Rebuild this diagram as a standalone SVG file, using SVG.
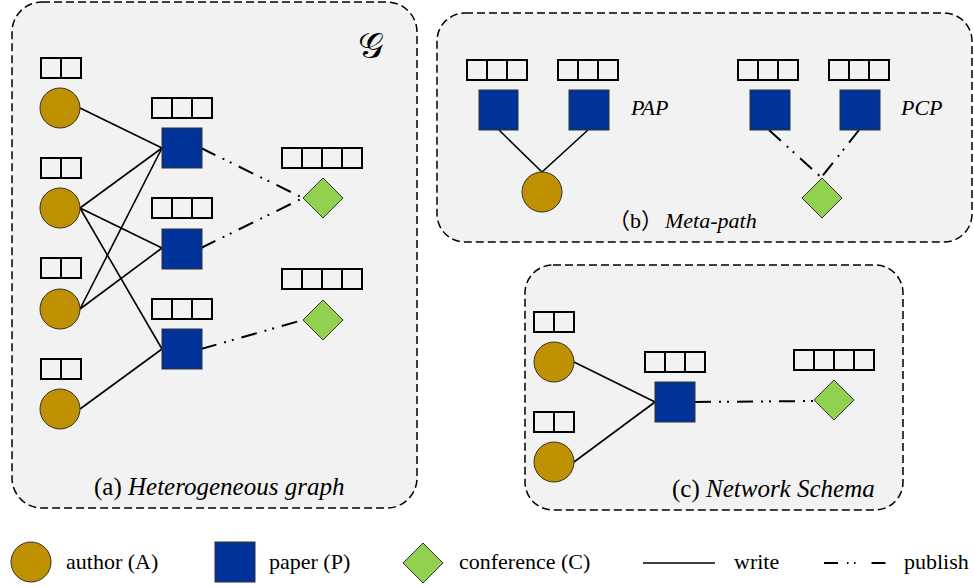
<svg xmlns="http://www.w3.org/2000/svg" xmlns:xlink="http://www.w3.org/1999/xlink" width="974" height="587" viewBox="0 0 974 587">
<style>
.panel{fill:#f2f2f2;stroke:#000;stroke-width:1.5;stroke-dasharray:8 4}
.author{fill:#bf9000;stroke:#333;stroke-width:1}
.paper{fill:#003399;stroke:#333;stroke-width:1}
.conf{fill:#92d050;stroke:#333;stroke-width:1}
.cell{fill:none;stroke:#000;stroke-width:2}
.write{stroke:#000;stroke-width:1.6;fill:none}
.publish{stroke:#000;stroke-width:2;fill:none;stroke-dasharray:16 8 2 6 2 8}
.it{font-style:italic}
</style>
<defs>
<g id="v2"><rect class="cell" x="0" y="0" width="20" height="20"/><rect class="cell" x="20" y="0" width="20" height="20"/></g>
<g id="v3"><rect class="cell" x="0" y="0" width="20" height="20"/><rect class="cell" x="20" y="0" width="20" height="20"/><rect class="cell" x="40" y="0" width="20" height="20"/></g>
<g id="v4"><rect class="cell" x="0" y="0" width="20" height="20"/><rect class="cell" x="20" y="0" width="20" height="20"/><rect class="cell" x="40" y="0" width="20" height="20"/><rect class="cell" x="60" y="0" width="20" height="20"/></g>
</defs>

<g id="panels">
<rect id="panel-a" class="panel" x="12" y="2" width="405" height="506" rx="30"/>
<rect id="panel-b" class="panel" x="437" y="13" width="535" height="229" rx="28"/>
<rect id="panel-c" class="panel" x="525" y="265" width="378" height="245" rx="28"/>
</g>

<g id="connectors">
<line class="write" x1="80" y1="108" x2="162" y2="148"/>
<line class="write" x1="80" y1="208" x2="162" y2="148"/>
<line class="write" x1="80" y1="208" x2="162" y2="248"/>
<line class="write" x1="80" y1="208" x2="162" y2="349"/>
<line class="write" x1="80" y1="309" x2="162" y2="148"/>
<line class="write" x1="80" y1="309" x2="162" y2="248"/>
<line class="write" x1="80" y1="409" x2="162" y2="349"/>
<line class="publish" x1="201" y1="148" x2="303" y2="198"/>
<line class="publish" x1="201" y1="248" x2="303" y2="198"/>
<line class="publish" x1="201" y1="349" x2="303" y2="320"/>
<line class="write" x1="499" y1="130" x2="542" y2="172"/>
<line class="write" x1="588" y1="130" x2="542" y2="172"/>
<line class="publish" x1="769" y1="130" x2="823" y2="179"/>
<line class="publish" x1="859" y1="130" x2="820" y2="179"/>
<line class="write" x1="574" y1="362" x2="655" y2="402"/>
<line class="write" x1="574" y1="462" x2="655" y2="402"/>
<line class="publish" x1="695" y1="402" x2="814" y2="401"/>
</g>

<g id="a-author1"><use xlink:href="#v2" x="41" y="58"/><circle class="author" cx="60" cy="108" r="20"/></g>
<g id="a-author2"><use xlink:href="#v2" x="41" y="158"/><circle class="author" cx="60" cy="208" r="20"/></g>
<g id="a-author3"><use xlink:href="#v2" x="41" y="258"/><circle class="author" cx="60" cy="309" r="20"/></g>
<g id="a-author4"><use xlink:href="#v2" x="41" y="359"/><circle class="author" cx="60" cy="409" r="20"/></g>
<g id="a-paper1"><use xlink:href="#v3" x="152" y="98"/><rect class="paper" x="162" y="128" width="40" height="40"/></g>
<g id="a-paper2"><use xlink:href="#v3" x="152" y="198"/><rect class="paper" x="162" y="229" width="40" height="40"/></g>
<g id="a-paper3"><use xlink:href="#v3" x="152" y="299"/><rect class="paper" x="162" y="329" width="40" height="40"/></g>
<g id="a-conf1"><use xlink:href="#v4" x="282" y="148"/><polygon class="conf" points="323,178 343,198 323,218 303,198"/></g>
<g id="a-conf2"><use xlink:href="#v4" x="282" y="269"/><polygon class="conf" points="323,300 343,320 323,340 303,320"/></g>

<g font-family="Liberation Serif, Times New Roman, serif" fill="#000">
<text id="a-symbol" x="358" y="58" font-size="36" font-family="DejaVu Serif, serif">𝒢</text>
<text id="a-caption" x="94" y="495" font-size="25" font-family="Liberation Serif, serif">(a) <tspan class="it">Heterogeneous graph</tspan></text>

<g id="b-paper1"><use xlink:href="#v3" x="467" y="60"/><rect class="paper" x="479" y="90" width="39" height="40"/></g>
<g id="b-paper2"><use xlink:href="#v3" x="558" y="60"/><rect class="paper" x="569" y="90" width="40" height="40"/></g>
<g id="b-author"><circle class="author" cx="542" cy="192" r="20"/></g>
<text id="b-pap" x="631" y="115" font-size="22" class="it" font-family="Liberation Serif, serif">PAP</text>
<g id="b-paper3"><use xlink:href="#v3" x="738" y="60"/><rect class="paper" x="750" y="90" width="40" height="40"/></g>
<g id="b-paper4"><use xlink:href="#v3" x="829" y="60"/><rect class="paper" x="840" y="90" width="40" height="40"/></g>
<g id="b-conf"><polygon class="conf" points="822,178 842,198 822,218 802,198"/></g>
<text id="b-pcp" x="901" y="115" font-size="22" class="it" font-family="Liberation Serif, serif">PCP</text>
<text id="b-caption" x="608" y="228" font-size="22" font-family="Liberation Serif, Noto Sans CJK SC, serif">（b）<tspan class="it" x="665">Meta-path</tspan></text>

<g id="c-author1"><use xlink:href="#v2" x="534" y="312"/><circle class="author" cx="554" cy="362" r="20"/></g>
<g id="c-author2"><use xlink:href="#v2" x="534" y="412"/><circle class="author" cx="554" cy="462" r="20"/></g>
<g id="c-paper"><use xlink:href="#v3" x="645" y="352"/><rect class="paper" x="655" y="382" width="40" height="40"/></g>
<g id="c-conf"><use xlink:href="#v4" x="794" y="350"/><polygon class="conf" points="834,380 854,400 834,420 814,400"/></g>
<text id="c-caption" x="672" y="497" font-size="25" font-family="Liberation Serif, serif">(c) <tspan class="it">Network Schema</tspan></text>

<g id="legend" font-size="22" font-family="Liberation Serif, serif">
<g id="leg-author"><circle class="author" cx="31" cy="562" r="20"/><text x="66" y="569">author (A)</text></g>
<g id="leg-paper"><rect class="paper" x="215" y="542" width="40" height="40"/><text x="269" y="569">paper (P)</text></g>
<g id="leg-conf"><polygon class="conf" points="423,543 443,563 423,583 403,563"/><text x="459" y="569">conference (C)</text></g>
<g id="leg-write"><line class="write" x1="643" y1="563" x2="715" y2="563"/><text x="734" y="569">write</text></g>
<g id="leg-publish"><line x1="824" y1="563" x2="887" y2="563" stroke="#000" stroke-width="2" stroke-dasharray="14 9 1.5 5.5 1.5 16"/><text x="904" y="569">publish</text></g>
</g>
</g>
</svg>
